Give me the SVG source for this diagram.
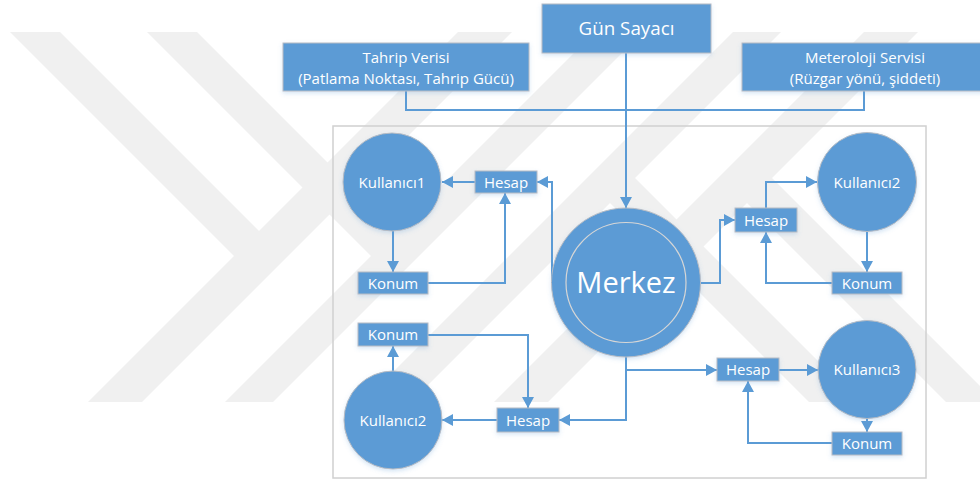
<svg xmlns="http://www.w3.org/2000/svg" width="980" height="485" viewBox="0 0 980 485">
  <defs>
    <style>
      .wm { fill: #f0f0f0; }
      .frame { fill: none; stroke: #d0d0d0; stroke-width: 1.5; }
      .box { fill: #5b9bd5; stroke: #b7bcc4; stroke-width: 1; filter: url(#soft); }
      .node { fill: #5b9bd5; stroke: #b7bcc4; stroke-width: 1; filter: url(#soft); }
      .ring { fill: none; stroke: #d6d6d6; stroke-width: 1.2; }
      .wire { fill: none; stroke: #5b9bd5; stroke-width: 2; }
      .arr { marker-end: url(#head); }
      text { fill: #ffffff; font-family: "Open Sans", "Liberation Sans", sans-serif; text-anchor: middle; }
      .t15 { font-size: 15px; }
      .src { font-size: 15px; }
      .big { font-size: 18.8px; }
      .hub { font-size: 29px; }
    </style>
    <filter id="soft" x="-20%" y="-20%" width="140%" height="150%">
      <feDropShadow dx="0" dy="2" stdDeviation="2" flood-color="#5b9bd5" flood-opacity="0.25"/>
    </filter>
    <marker id="head" viewBox="0 0 11 12" refX="11" refY="6" markerWidth="11" markerHeight="12" markerUnits="userSpaceOnUse" orient="auto">
      <path d="M0,0 L11,6 L0,12 z" fill="#5b9bd5"/>
    </marker>
  </defs>

  <rect width="980" height="485" fill="#ffffff"/>

  <!-- faint background emblem: diagonal bands -->
  <g id="emblem">
    <polygon class="wm" points="10,32 60,32 274,246 249,271"/>
    <polygon class="wm" points="88,402 142,402 512,32 458,32"/>
    <polygon class="wm" points="147,32 197,32 412,247 387,272"/>
    <polygon class="wm" points="225,402 273,402 643,32 595,32"/>
    <polygon class="wm" points="996,402 946,402 732,188 757,163"/>
    <polygon class="wm" points="918,32 864,32 494,402 548,402"/>
    <polygon class="wm" points="859,402 809,402 594,187 619,162"/>
    <polygon class="wm" points="781,32 733,32 363,402 411,402"/>
  </g>

  <rect id="frame" class="frame" x="333" y="126" width="593" height="352"/>

  <g id="connectors">
    <path class="wire arr" d="M626,53 V208"/>
    <path class="wire" d="M406,91 V110 H864 V91"/>
    <path class="wire arr" d="M552,283 V182 H537"/>
    <path class="wire arr" d="M475,182 H442"/>
    <path class="wire arr" d="M393,231 V272"/>
    <path class="wire arr" d="M428,283 H505 V193"/>
    <path class="wire arr" d="M701,283 H720 V220 H735"/>
    <path class="wire arr" d="M766,208 V182 H817"/>
    <path class="wire arr" d="M867,232 V272"/>
    <path class="wire arr" d="M832,283 H766 V232"/>
    <path class="wire arr" d="M626,357 V420 H559"/>
    <path class="wire arr" d="M497,420 H442"/>
    <path class="wire arr" d="M393,371 V346"/>
    <path class="wire arr" d="M428,335 H528 V408"/>
    <path class="wire arr" d="M626,370 H717"/>
    <path class="wire arr" d="M779,370 H818"/>
    <path class="wire arr" d="M867,418 V432"/>
    <path class="wire arr" d="M832,443 H748 V381"/>
  </g>

  <g id="gun-sayaci">
    <rect class="box" x="542" y="4" width="169" height="49"/>
    <text class="big" x="626.5" y="35">Gün Sayacı</text>
  </g>
  <g id="tahrip-verisi">
    <rect class="box" x="283" y="43" width="246" height="48"/>
    <text class="src" x="406" y="63">Tahrip Verisi</text>
    <text class="src" x="406" y="84">(Patlama Noktası, Tahrip Gücü)</text>
  </g>
  <g id="meteoroloji">
    <rect class="box" x="742" y="43" width="246" height="48"/>
    <text class="src" x="865" y="63">Meteroloji Servisi</text>
    <text class="src" x="865" y="84">(Rüzgar yönü, şiddeti)</text>
  </g>

  <g id="merkez">
    <circle class="node" cx="626" cy="282.5" r="74.5"/>
    <circle class="ring" cx="626" cy="282.5" r="60"/>
    <text class="hub" x="626" y="293">Merkez</text>
  </g>

  <g id="kullanici1">
    <circle class="node" cx="392" cy="182" r="49"/>
    <text class="t15" x="392" y="187.5">Kullanıcı1</text>
  </g>
  <g id="hesap1">
    <rect class="box" x="475" y="171" width="62" height="22"/>
    <text class="t15" x="506" y="187.5">Hesap</text>
  </g>
  <g id="konum1">
    <rect class="box" x="358" y="272" width="70" height="22"/>
    <text class="t15" x="393" y="288.5">Konum</text>
  </g>

  <g id="kullanici2-ust">
    <circle class="node" cx="867" cy="182" r="49.5"/>
    <text class="t15" x="867" y="187.5">Kullanıcı2</text>
  </g>
  <g id="hesap2">
    <rect class="box" x="735" y="208" width="62" height="24"/>
    <text class="t15" x="766" y="225.5">Hesap</text>
  </g>
  <g id="konum2">
    <rect class="box" x="832" y="272" width="70" height="22"/>
    <text class="t15" x="867" y="288.5">Konum</text>
  </g>

  <g id="kullanici2-alt">
    <circle class="node" cx="393" cy="420" r="49"/>
    <text class="t15" x="393" y="425.5">Kullanıcı2</text>
  </g>
  <g id="konum3">
    <rect class="box" x="358" y="323" width="70" height="23"/>
    <text class="t15" x="393" y="340">Konum</text>
  </g>
  <g id="hesap3">
    <rect class="box" x="497" y="408" width="62" height="24"/>
    <text class="t15" x="528" y="425.5">Hesap</text>
  </g>

  <g id="kullanici3">
    <circle class="node" cx="867" cy="369.5" r="49"/>
    <text class="t15" x="867" y="375">Kullanıcı3</text>
  </g>
  <g id="hesap4">
    <rect class="box" x="717" y="358" width="62" height="23"/>
    <text class="t15" x="748" y="375">Hesap</text>
  </g>
  <g id="konum4">
    <rect class="box" x="832" y="432" width="70" height="23"/>
    <text class="t15" x="867" y="449">Konum</text>
  </g>
</svg>
